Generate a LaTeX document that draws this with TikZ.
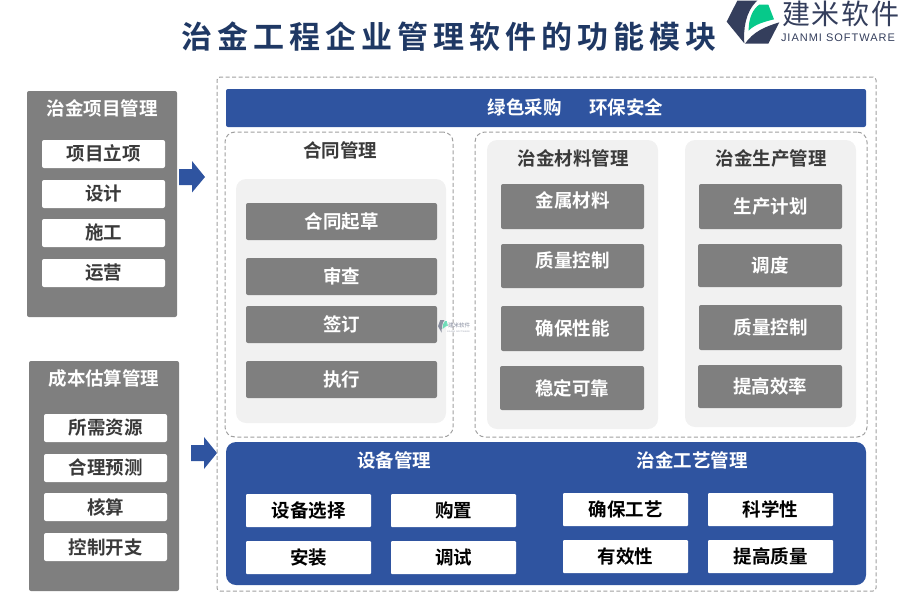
\documentclass[tikz,border=0pt]{standalone}
\usepackage{fontspec}
\setmainfont{Noto Sans CJK SC}[BoldFont={Noto Sans CJK SC Bold}]
\newfontfamily\titlefont{Noto Sans CJK SC Bold}[LetterSpace=16]
\newfontfamily\logofont{Noto Sans CJK SC}[LetterSpace=6]
\newfontfamily\logolat{Liberation Sans}[LetterSpace=9]
\definecolor{blu}{HTML}{2F54A0}
\definecolor{gry}{HTML}{7F7F7F}
\definecolor{lgt}{HTML}{F1F1F1}
\definecolor{navy}{HTML}{1F3864}
\definecolor{dsh}{HTML}{A0A0A0}
\definecolor{ink}{HTML}{3A3A3A}
\definecolor{logod}{HTML}{343E5C}
\definecolor{logog}{HTML}{06C98A}
\tikzset{
  x=1pt,y=-1pt,
  every node/.style={font=\bfseries\fontsize{18.5}{21}\selectfont,inner sep=0pt,outer sep=0pt},
  panel/.style={fill=gry,rounded corners=2pt},
  soft/.style={fill=lgt,rounded corners=10pt},
  dashbox/.style={draw=dsh,line width=1pt,dash pattern=on 4pt off 2.5pt,rounded corners=10pt},
  outerbox/.style={draw=dsh,line width=1pt,dash pattern=on 4pt off 2.5pt,rounded corners=3pt},
  whitebox/.style={fill=white,rounded corners=2pt,text=ink},
  whiteblk/.style={fill=white,rounded corners=1pt,text=black},
  greybox/.style={fill=gry,rounded corners=2pt,text=white},
  bluebar/.style={fill=blu,rounded corners=2pt,text=white},
  bluepanel/.style={fill=blu,rounded corners=10pt},
  heading/.style={text=ink},
  wheading/.style={text=white},
}
\newcommand\bx[7][]{\node[#7,#1,minimum width={(#4-#2)*1pt},minimum height={(#5-#3)*1pt}] (#6) at ({(#2+#4)/2},{(#3+#5)/2}) {};}
\newcommand\tb[7]{\node[#6,minimum width={(#3-#1)*1pt},minimum height={(#4-#2)*1pt}] (#5) at ({(#1+#3)/2},{(#2+#4)/2}) {#7};}
\begin{document}
\begin{tikzpicture}
\useasboundingbox (0,0) rectangle (900,600);
% title
\node[font=\titlefont\fontsize{31}{34}\selectfont,text=navy] (title) at (449,37) {治金工程企业管理软件的功能模块};
% logo
\begin{scope}[shift={(700,0)},x=0.3333pt,y=-0.3333pt]
\fill[logod] (112,2) -- (172,2) .. controls (135,35) and (130,90) .. (133,130) -- (80,65) -- cycle;
\fill[logog] (146,92) .. controls (145,55) and (160,25) .. (178,14) -- (205,14) -- (222,58) .. controls (195,65) and (165,72) .. (146,92) -- cycle;
\fill[logod] (135,131) .. controls (160,95) and (195,80) .. (238,67) -- (205,131) -- cycle;
\end{scope}
\node[font=\logofont\fontsize{28}{30}\selectfont,text=logod,anchor=west] (logocn) at (782,14) {建米软件};
\node[font=\logolat\fontsize{11}{12}\selectfont,text=logod,anchor=west] (logoen) at (781,38) {JIANMI SOFTWARE};
% left panels
\bx{27}{91}{177}{317}{pA}{panel}
\node[text=white] (pAt) at (102,108) {治金项目管理};
\tb{42}{140}{165}{168}{a1}{whitebox}{\raisebox{2pt}{项目立项}}
\tb{42}{180}{165}{208}{a2}{whitebox}{设计}
\tb{42}{219}{165}{247}{a3}{whitebox}{\raisebox{2pt}{施工}}
\tb{42}{259}{165}{287}{a4}{whitebox}{运营}
\bx{29}{361}{179}{591}{pB}{panel}
\node[text=white] (pBt) at (104,378) {成本估算管理};
\tb{44}{414}{167}{442}{b1}{whitebox}{所需资源}
\tb{44}{454}{167}{482}{b2}{whitebox}{\raisebox{2pt}{合理预测}}
\tb{44}{493}{167}{521}{b3}{whitebox}{核算}
\tb{44}{533}{167}{561}{b4}{whitebox}{控制开支}
% arrows
\fill[blu] (179,169) -- (192,169) -- (192,161) -- (205,177) -- (192,192.5) -- (192,185) -- (179,185) -- cycle;
\fill[blu] (191,445) -- (204,445) -- (204,437) -- (217,453) -- (204,469) -- (204,461) -- (191,461) -- cycle;
% outer
\bx{217}{77}{876}{591}{outer}{outerbox}
\bx{226}{89}{866}{127}{top}{bluebar}
\node[text=white] (toptext) at (575.5,107.5) {绿色采购\hspace{1.5em}环保安全};
% contract
\bx{225}{132}{453}{437}{cbox}{dashbox}
\node[heading] (ct) at (340,150) {合同管理};
\bx{236}{179}{446}{423}{csoft}{soft}
\tb{246}{203}{437}{240}{c1}{greybox}{合同起草}
\tb{246}{258}{437}{295}{c2}{greybox}{审查}
\tb{246}{306}{437}{343}{c3}{greybox}{\raisebox{1pt}{签订}}
\tb{246}{361}{437}{398}{c4}{greybox}{\raisebox{2pt}{执行}}
% right dashed
\bx{475}{132}{867}{437}{rbox}{dashbox}
\bx{487}{140}{658}{429}{msoft}{soft}
\bx{685}{140}{856}{427}{psoft}{soft}
\node[heading] (mt) at (573,158) {治金材料管理};
\node[heading] (pt) at (771,158) {治金生产管理};
\tb{501}{184}{644}{229}{m1}{greybox}{\raisebox{13pt}{金属材料}}
\tb{501}{244}{644}{288}{m2}{greybox}{\raisebox{12pt}{质量控制}}
\tb{501}{306}{644}{351}{m3}{greybox}{确保性能}
\tb{500}{366}{644}{410}{m4}{greybox}{稳定可靠}
\tb{699}{184}{842}{229}{p1}{greybox}{生产计划}
\tb{698}{244}{842}{287}{p2}{greybox}{调度}
\tb{699}{305}{842}{350}{p3}{greybox}{\raisebox{2pt}{质量控制}}
\tb{698}{365}{842}{408}{p4}{greybox}{提高效率}
% watermark
\begin{scope}[shift={(432.4,307)},x=0.07pt,y=-0.1pt,opacity=0.55]
\fill[logod] (112,130) -- (172,130) .. controls (135,163) and (130,218) .. (133,258) -- (80,193) -- cycle;
\fill[logog] (146,220) .. controls (145,183) and (160,153) .. (178,142) -- (205,142) -- (222,186) .. controls (195,193) and (165,200) .. (146,220) -- cycle;
\end{scope}
\node[font=\fontsize{5.5}{6}\selectfont,text=logod,opacity=0.6,anchor=west] (wm) at (448,325) {建米软件};
\node[font=\logolat\fontsize{2.2}{3}\selectfont,text=logod,opacity=0.5,anchor=west] (wmen) at (447,332) {JIANMI SOFTWARE};
% bottom
\bx{226}{442}{866}{585}{bp}{bluepanel}
\node[wheading] (et) at (394,460) {设备管理};
\node[wheading] (gt) at (692,460) {治金工艺管理};
\tb{246}{494}{371}{527}{e1}{whiteblk}{设备选择}
\tb{391}{494}{516}{527}{e2}{whiteblk}{购置}
\tb{246}{541}{371}{574}{e3}{whiteblk}{安装}
\tb{391}{541}{516}{574}{e4}{whiteblk}{调试}
\tb{563}{493}{688}{526}{g1}{whiteblk}{确保工艺}
\tb{708}{493}{833}{526}{g2}{whiteblk}{科学性}
\tb{563}{540}{688}{573}{g3}{whiteblk}{\raisebox{2pt}{有效性}}
\tb{708}{540}{833}{573}{g4}{whiteblk}{\raisebox{2pt}{提高质量}}
\end{tikzpicture}
\end{document}
